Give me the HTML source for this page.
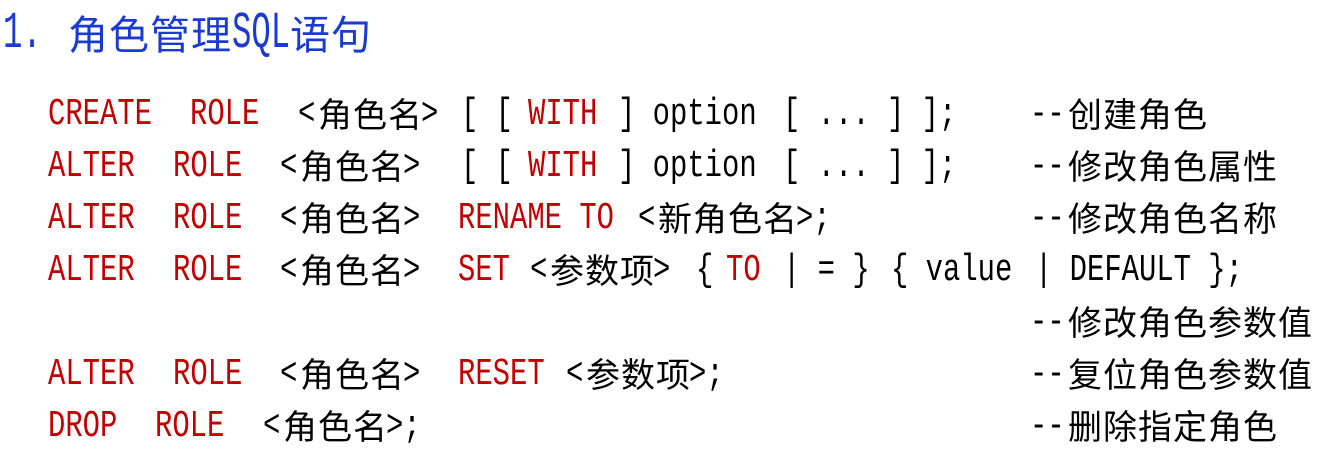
<!DOCTYPE html>
<html><head><meta charset="utf-8"><style>
html,body{margin:0;padding:0;background:#fff;width:1325px;height:453px;overflow:hidden;position:relative}
.l,.c,.tl,.tc{position:absolute;white-space:pre;line-height:52px;height:52px}
.l{font-family:"Liberation Mono",monospace;font-size:38px;transform:scaleX(0.76);transform-origin:0 50%;color:#000;margin-top:3px}
.c{font-family:"Noto Sans CJK SC","WenQuanYi Zen Hei",sans-serif;font-size:34px;letter-spacing:1px;color:#000;margin-top:1px}
.r{color:#c00000}
.tl{font-family:"Liberation Mono",monospace;font-size:52px;transform:scaleX(0.62);transform-origin:0 50%;color:#1a3ad0;line-height:60px;height:60px}
.tc{font-family:"Noto Sans CJK SC","WenQuanYi Zen Hei",sans-serif;font-size:40px;letter-spacing:1px;color:#1a3ad0;line-height:60px;height:60px}
</style></head><body>
<div class="tl" style="left:3px;top:4px">1.</div>
<div class="tc" style="left:68px;top:2px">角色管理</div>
<div class="tl" style="left:232px;top:4px">SQL</div>
<div class="tc" style="left:290px;top:2px">语句</div>

<!-- row1 -->
<div class="l r" style="left:48px;top:86px">CREATE</div>
<div class="l r" style="left:190px;top:86px">ROLE</div>
<div class="l" style="left:298px;top:86px">&lt;</div>
<div class="c" style="left:318px;top:86px">角色名</div>
<div class="l" style="left:421px;top:86px">&gt;</div>
<div class="l" style="left:461px;top:86px">[ [</div>
<div class="l r" style="left:528px;top:86px">WITH</div>
<div class="l" style="left:618px;top:86px">] option</div>
<div class="l" style="left:783px;top:86px">[ ... ] ];</div>
<div class="l" style="left:1030px;top:86px">--</div>
<div class="c" style="left:1068px;top:86px">创建角色</div>

<!-- row2 -->
<div class="l r" style="left:48px;top:138px">ALTER</div>
<div class="l r" style="left:173px;top:138px">ROLE</div>
<div class="l" style="left:280px;top:138px">&lt;</div>
<div class="c" style="left:300px;top:138px">角色名</div>
<div class="l" style="left:403px;top:138px">&gt;</div>
<div class="l" style="left:461px;top:138px">[ [</div>
<div class="l r" style="left:528px;top:138px">WITH</div>
<div class="l" style="left:618px;top:138px">] option</div>
<div class="l" style="left:783px;top:138px">[ ... ] ];</div>
<div class="l" style="left:1030px;top:138px">--</div>
<div class="c" style="left:1068px;top:138px">修改角色属性</div>

<!-- row3 -->
<div class="l r" style="left:48px;top:190px">ALTER</div>
<div class="l r" style="left:173px;top:190px">ROLE</div>
<div class="l" style="left:280px;top:190px">&lt;</div>
<div class="c" style="left:300px;top:190px">角色名</div>
<div class="l" style="left:403px;top:190px">&gt;</div>
<div class="l r" style="left:458px;top:190px">RENAME TO</div>
<div class="l" style="left:638px;top:190px">&lt;</div>
<div class="c" style="left:658px;top:190px">新角色名</div>
<div class="l" style="left:796px;top:190px">&gt;;</div>
<div class="l" style="left:1030px;top:190px">--</div>
<div class="c" style="left:1068px;top:190px">修改角色名称</div>

<!-- row4 -->
<div class="l r" style="left:48px;top:242px">ALTER</div>
<div class="l r" style="left:173px;top:242px">ROLE</div>
<div class="l" style="left:280px;top:242px">&lt;</div>
<div class="c" style="left:300px;top:242px">角色名</div>
<div class="l" style="left:403px;top:242px">&gt;</div>
<div class="l r" style="left:458px;top:242px">SET</div>
<div class="l" style="left:530px;top:242px">&lt;</div>
<div class="c" style="left:550px;top:242px">参数项</div>
<div class="l" style="left:653px;top:242px">&gt;</div>
<div class="l" style="left:696px;top:242px">{</div>
<div class="l r" style="left:726px;top:242px">TO</div>
<div class="l" style="left:783px;top:242px">| = }</div>
<div class="l" style="left:891px;top:242px">{ value</div>
<div class="l" style="left:1035px;top:242px">| DEFAULT };</div>

<!-- row5 -->
<div class="l" style="left:1030px;top:294px">--</div>
<div class="c" style="left:1068px;top:294px">修改角色参数值</div>

<!-- row6 -->
<div class="l r" style="left:48px;top:346px">ALTER</div>
<div class="l r" style="left:173px;top:346px">ROLE</div>
<div class="l" style="left:280px;top:346px">&lt;</div>
<div class="c" style="left:300px;top:346px">角色名</div>
<div class="l" style="left:403px;top:346px">&gt;</div>
<div class="l r" style="left:458px;top:346px">RESET</div>
<div class="l" style="left:566px;top:346px">&lt;</div>
<div class="c" style="left:586px;top:346px">参数项</div>
<div class="l" style="left:689px;top:346px">&gt;;</div>
<div class="l" style="left:1030px;top:346px">--</div>
<div class="c" style="left:1068px;top:346px">复位角色参数值</div>

<!-- row7 -->
<div class="l r" style="left:48px;top:398px">DROP</div>
<div class="l r" style="left:155px;top:398px">ROLE</div>
<div class="l" style="left:263px;top:398px">&lt;</div>
<div class="c" style="left:283px;top:398px">角色名</div>
<div class="l" style="left:386px;top:398px">&gt;;</div>
<div class="l" style="left:1030px;top:398px">--</div>
<div class="c" style="left:1068px;top:398px">删除指定角色</div>
</body></html>
